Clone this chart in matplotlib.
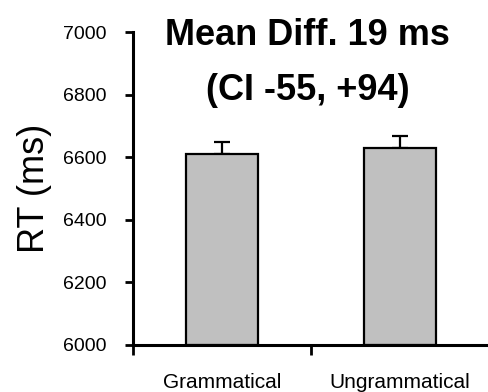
import matplotlib
matplotlib.use('Agg')
import matplotlib.pyplot as plt

# 数据
categories = ['Grammatical', 'Ungrammatical']
means = [6612, 6631]
errors = [38, 37]
title_lines = ['Mean Diff. 19 ms', '(CI -55, +94)']

plt.rcParams['font.family'] = ['Liberation Sans', 'DejaVu Sans']

fig = plt.figure(figsize=(4.89, 3.92), dpi=100)
ax = fig.add_axes([0.272, 0.120, 0.728, 0.798])

x = [1, 2]
ax.bar(x, [m - 6000 for m in means], bottom=6000, width=0.41,
       color='#c0c0c0', edgecolor='black', linewidth=1.6, zorder=2)
ax.errorbar(x, means, yerr=[[0, 0], errors], fmt='none', ecolor='black',
            elinewidth=1.6, capsize=6, capthick=1.6, zorder=1)

ax.set_xlim(0.5, 2.5)
ax.set_ylim(6000, 7000)
ax.set_yticks([6000, 6200, 6400, 6600, 6800, 7000])
ax.set_xticks([0.5, 1.5, 2.5])
ax.set_xticklabels([])
ax.set_xticks(x, minor=True)
ax.set_xticklabels(categories, minor=True, fontsize=15)
ax.tick_params(axis='x', which='minor', length=0, pad=20)
ax.tick_params(axis='x', which='major', length=7, width=2, direction='out')
ax.tick_params(axis='y', length=6, width=2, direction='out', labelsize=14, pad=13)

for s in ['top', 'right']:
    ax.spines[s].set_visible(False)
for s in ['left', 'bottom']:
    ax.spines[s].set_linewidth(2.2)

ax.set_ylabel('RT (ms)', fontsize=26, labelpad=8)

ax.text(0.49, 0.99, title_lines[0], transform=ax.transAxes, ha='center', va='center',
        fontsize=26, fontweight='bold')
ax.text(0.49, 0.815, title_lines[1], transform=ax.transAxes, ha='center', va='center',
        fontsize=26, fontweight='bold')

fig.savefig('out.png', dpi=100)
